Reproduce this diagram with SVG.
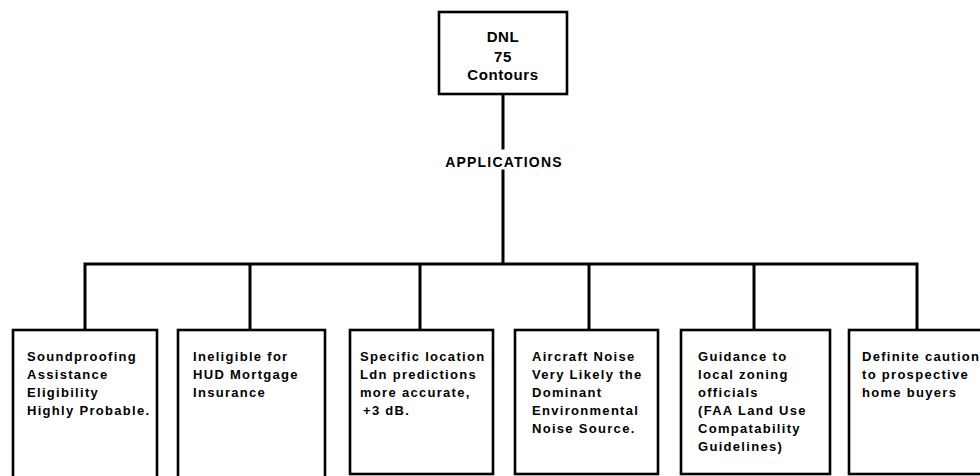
<svg xmlns="http://www.w3.org/2000/svg" width="980" height="476" viewBox="0 0 980 476">
<style>
.box{fill:#fff;stroke:#000;stroke-width:2.6}
.ln{fill:none;stroke:#000;stroke-width:3;stroke-linecap:square}
.t{font-family:"Liberation Sans",Arial,sans-serif;font-weight:bold;font-size:13px;letter-spacing:1.3px;fill:#000}
.h{font-family:"Liberation Sans",Arial,sans-serif;font-weight:bold;font-size:15px;letter-spacing:0.6px;fill:#000;text-anchor:middle}
.a{font-family:"Liberation Sans",Arial,sans-serif;font-weight:bold;font-size:14px;letter-spacing:1.2px;fill:#000;text-anchor:middle}
</style>
<rect width="980" height="476" fill="#fff"/>
<g id="connectors">
<path class="ln" d="M503 94V148M503 171V264M85 264H917M85 264V330M250 264V330M420 264V330M589 264V330M754 264V330M917 264V330"/>
<text class="a" x="504" y="167">APPLICATIONS</text>
</g>
<g id="root">
<rect class="box" x="439" y="12" width="128" height="82"/>
<text class="h" x="503" y="42">DNL</text>
<text class="h" x="503" y="62">75</text>
<text class="h" x="503" y="80">Contours</text>
</g>
<g id="n1">
<rect class="box" x="13" y="330" width="144" height="150"/>
<text class="t" x="27" y="361">Soundproofing</text>
<text class="t" x="27" y="379">Assistance</text>
<text class="t" x="27" y="397">Eligibility</text>
<text class="t" x="27" y="415">Highly Probable.</text>
</g>
<g id="n2">
<rect class="box" x="178" y="330" width="147" height="150"/>
<text class="t" x="193" y="361">Ineligible for</text>
<text class="t" x="193" y="379">HUD Mortgage</text>
<text class="t" x="193" y="397">Insurance</text>
</g>
<g id="n3">
<rect class="box" x="350" y="330" width="143" height="144"/>
<text class="t" x="360" y="361">Specific location</text>
<text class="t" x="360" y="379">Ldn predictions</text>
<text class="t" x="360" y="397">more accurate,</text>
<text class="t" x="363" y="415">+3 dB.</text>
</g>
<g id="n4">
<rect class="box" x="515" y="330" width="143" height="144"/>
<text class="t" x="532" y="361">Aircraft Noise</text>
<text class="t" x="532" y="379">Very Likely the</text>
<text class="t" x="532" y="397">Dominant</text>
<text class="t" x="532" y="415">Environmental</text>
<text class="t" x="532" y="433">Noise Source.</text>
</g>
<g id="n5">
<rect class="box" x="681" y="330" width="149" height="144"/>
<text class="t" x="698" y="361">Guidance to</text>
<text class="t" x="698" y="379">local zoning</text>
<text class="t" x="698" y="397">officials</text>
<text class="t" x="698" y="415">(FAA Land Use</text>
<text class="t" x="698" y="433">Compatability</text>
<text class="t" x="698" y="451">Guidelines)</text>
</g>
<g id="n6">
<rect class="box" x="849" y="330" width="140" height="144"/>
<text class="t" x="862" y="361">Definite caution</text>
<text class="t" x="862" y="379">to prospective</text>
<text class="t" x="862" y="397">home buyers</text>
</g>
</svg>
